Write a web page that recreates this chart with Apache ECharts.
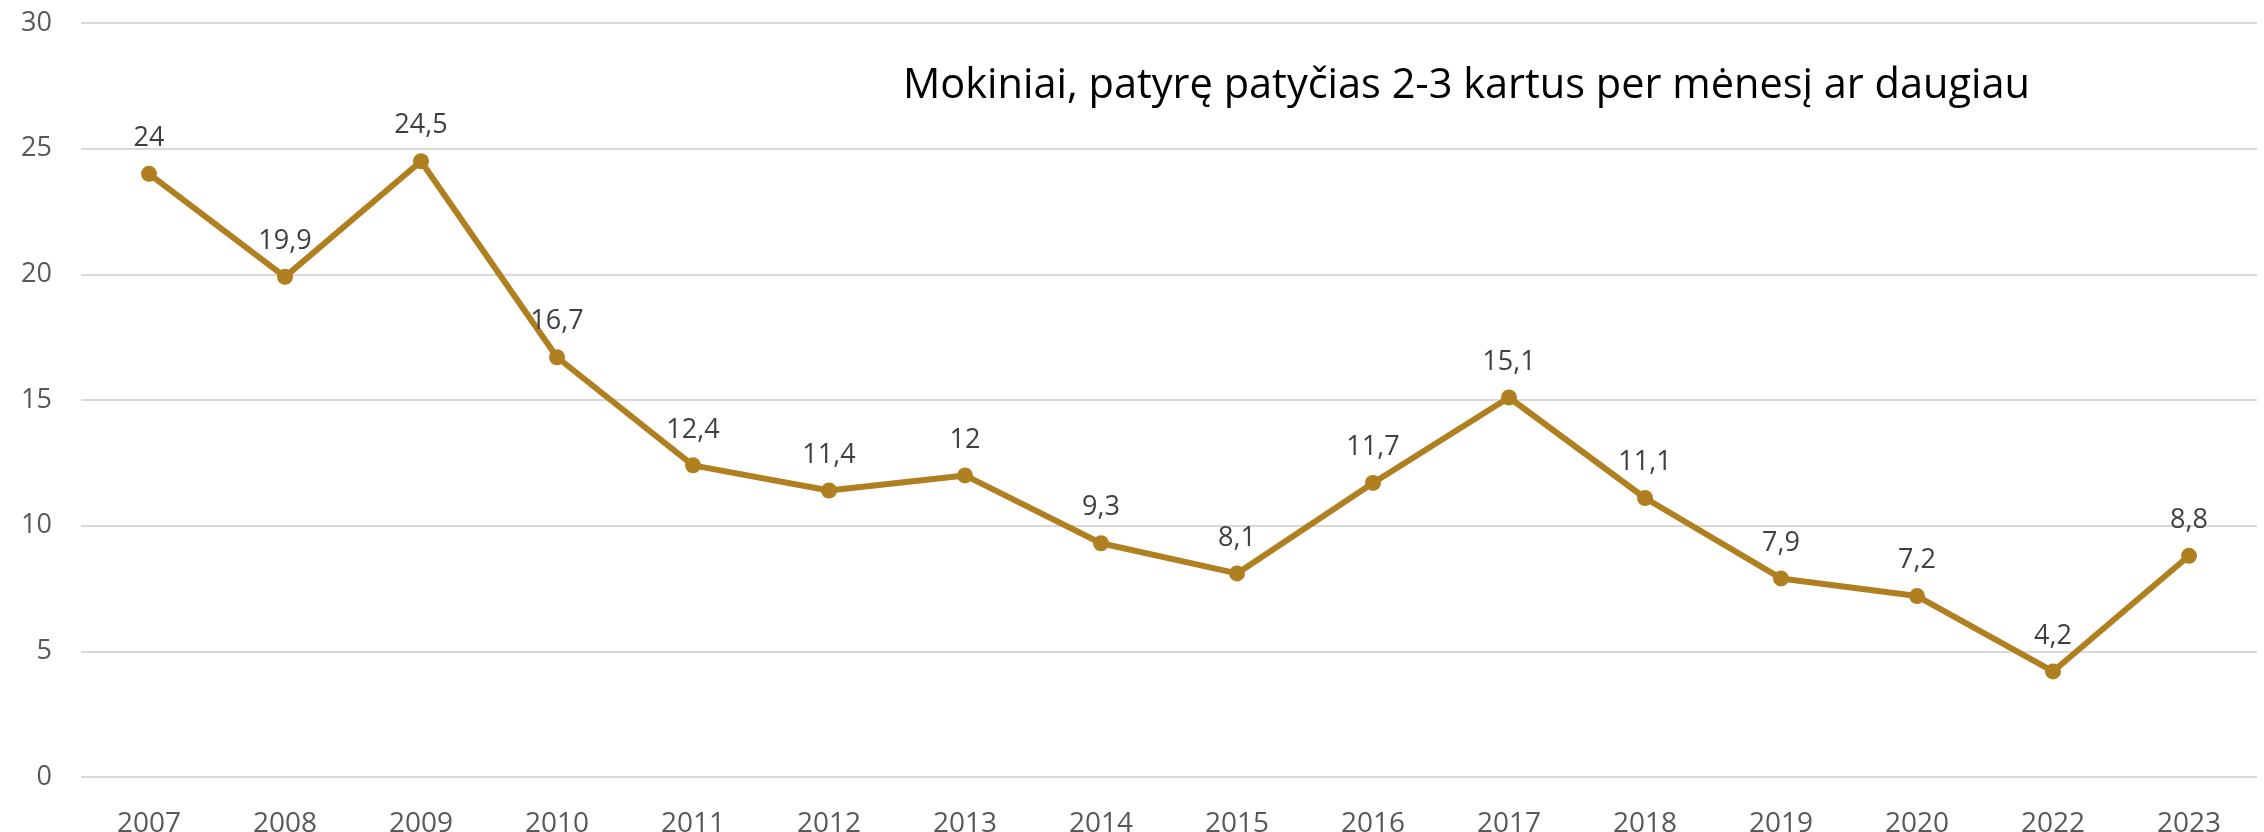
<!DOCTYPE html>
<html>
<head>
<meta charset="utf-8">
<script src="https://cdn.jsdelivr.net/npm/echarts@6/dist/echarts.min.js"></script>
<style>
  html, body { margin: 0; padding: 0; background: #fff; }
  #main { width: 2264px; height: 832px; }
</style>
</head>
<body>
<div id="main"></div>
<script>
var years = ['2007', '2008', '2009', '2010', '2011', '2012', '2013', '2014',
    '2015', '2016', '2017', '2018', '2019', '2020', '2022', '2023'];
var values = [24, 19.9, 24.5, 16.7, 12.4, 11.4, 12, 9.3, 8.1, 11.7, 15.1, 11.1, 7.9, 7.2, 4.2, 8.8];
var titleText = 'Mokiniai, patyrę patyčias 2-3 kartus per mėnesį ar daugiau';

var myChart = echarts.init(document.getElementById('main'));
var option = {
    backgroundColor: '#fff',
    animation: false,
    title: {
        text: titleText,
        left: 898,
        top: 60,
        textStyle: {
            fontFamily: 'Open Sans',
            fontSize: 41.5,
            fontWeight: 'normal',
            color: '#000'
        }
    },
    grid: {
        left: 81,
        right: 7,
        top: 23,
        bottom: 55,
        outerBoundsMode: 'none',
        containLabel: false
    },
    xAxis: {
        type: 'category',
        data: years,
        boundaryGap: true,
        axisLine: { show: false },
        axisTick: { show: false },
        axisLabel: {
            margin: 33,
            fontFamily: 'Open Sans',
            fontSize: 28,
            color: '#595959'
        }
    },
    yAxis: {
        type: 'value',
        min: 0,
        max: 30,
        interval: 5,
        axisLine: { show: false },
        axisTick: { show: false },
        axisLabel: {
            margin: 29,
            fontFamily: 'Open Sans',
            fontSize: 27,
            color: '#595959'
        },
        splitLine: {
            lineStyle: { color: '#d9d9d9', width: 2 }
        }
    },
    series: [{
        type: 'line',
        data: values,
        symbol: 'circle',
        symbolSize: 16,
        lineStyle: { color: '#B07F20', width: 6 },
        itemStyle: { color: '#B07F20' },
        label: {
            show: true,
            position: 'top',
            distance: 14,
            fontFamily: 'Open Sans',
            fontSize: 27,
            color: '#404040',
            formatter: function (p) {
                return String(p.value).replace('.', ',');
            }
        }
    }]
};
myChart.setOption(option);
</script>
</body>
</html>
